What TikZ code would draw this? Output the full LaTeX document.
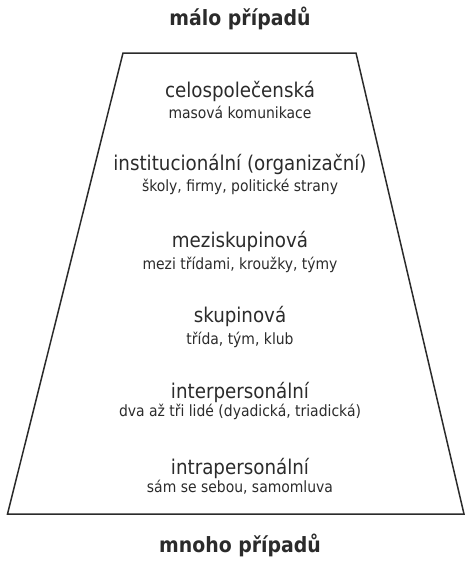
\documentclass[tikz,border=0pt]{standalone}
\usepackage{fontspec}
\setmainfont{DejaVu Sans Condensed}
\definecolor{ink}{HTML}{2B2B2B}
\begin{document}
\begin{tikzpicture}[x=1pt, y=-1pt,
  edge/.style={draw=ink, line width=1.5pt, line join=miter},
  level/.style={anchor=mid, text=ink, font=\fontsize{20.3}{22}\selectfont, inner sep=0pt},
  note/.style={anchor=mid, text=ink, font=\fontsize{15.5}{17}\selectfont, inner sep=0pt},
  caption/.style={anchor=mid, text=ink, font=\fontsize{21}{23}\selectfont\bfseries, inner sep=0pt}]
  \useasboundingbox (0,0) rectangle (466,562);

  % trapezoid outline
  \coordinate (tl) at (123,53);
  \coordinate (tr) at (356,53);
  \coordinate (br) at (464,514);
  \coordinate (bl) at (7.5,514);
  \draw[edge] (tl) -- (tr) -- (br) -- (bl) -- cycle;

  % captions above and below
  \node[caption] (few)  at (240,23) {málo případů};
  \node[caption] (many) at (240,549.5) {mnoho případů};

  % levels of communication, top to bottom
  \node[level] (l1)  at (240,94.5)  {celospolečenská};
  \node[note]  (n1)  at (240,115.5) {masová komunikace};
  \node[level] (l2)  at (240,168)   {institucionální (organizační)};
  \node[note]  (n2)  at (240,188.5) {školy, firmy, politické strany};
  \node[level] (l3)  at (240,244.5) {meziskupinová};
  \node[note]  (n3)  at (240,266.5) {mezi třídami, kroužky, týmy};
  \node[level] (l4)  at (240,320)   {skupinová};
  \node[note]  (n4)  at (240,341.3) {třída, tým, klub};
  \node[level] (l5)  at (240,395.5) {interpersonální};
  \node[note]  (n5)  at (240,414.2) {dva až tři lidé (dyadická, triadická)};
  \node[level] (l6)  at (240,472.2) {intrapersonální};
  \node[note]  (n6)  at (240,490)   {sám se sebou, samomluva};
\end{tikzpicture}
\end{document}
